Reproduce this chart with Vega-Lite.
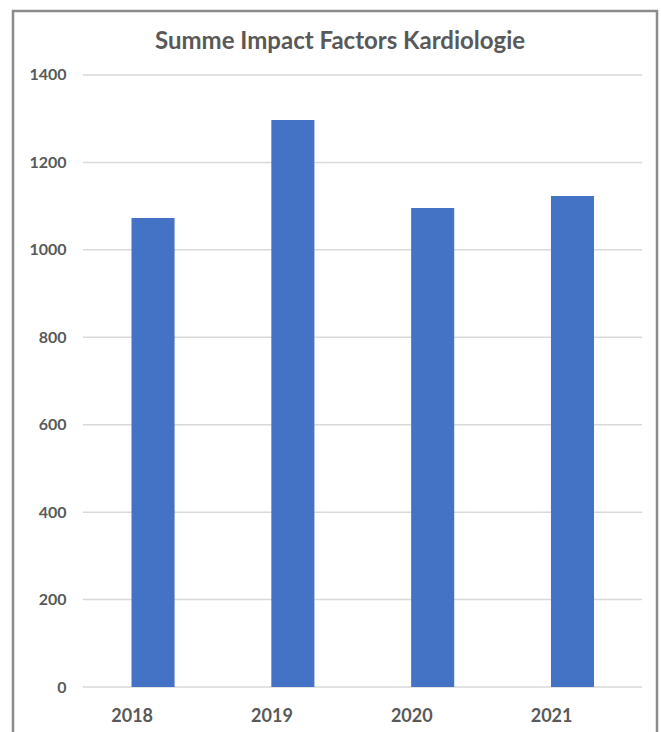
{
  "$schema": "https://vega.github.io/schema/vega-lite/v6.json",
  "autosize": {"type": "none"},
  "width": 644,
  "height": 740,
  "padding": {"left": 13, "top": 11, "right": 4, "bottom": 0},
  "background": "white",
  "title": {
    "text": "Summe Impact Factors Kardiologie",
    "font": "Lato",
    "fontSize": 24,
    "fontWeight": "bold",
    "color": "#595959",
    "anchor": "middle",
    "dx": 5,
    "offset": -43
  },
  "datasets": {
    "ifsum": [
      {"jahr": "2018", "summe": 1073},
      {"jahr": "2019", "summe": 1297},
      {"jahr": "2020", "summe": 1096},
      {"jahr": "2021", "summe": 1123}
    ],
    "raster": [
      {"wert": 0}, {"wert": 200}, {"wert": 400}, {"wert": 600},
      {"wert": 800}, {"wert": 1000}, {"wert": 1200}, {"wert": 1400}
    ]
  },
  "layer": [
    {
      "data": {"name": "raster"},
      "mark": {"type": "rule", "color": "#d9d9d9", "strokeWidth": 1.5},
      "encoding": {
        "y": {"field": "wert", "type": "quantitative"},
        "x": {"datum": "2018", "type": "ordinal", "bandPosition": -1.128},
        "x2": {"datum": "2021", "bandPosition": 2.116}
      }
    },
    {
      "data": {"name": "ifsum"},
      "mark": {"type": "bar", "color": "#4472C4"},
      "encoding": {
        "x": {
          "field": "jahr",
          "type": "ordinal",
          "sort": null,
          "title": null,
          "scale": {
            "domain": ["2018", "2019", "2020", "2021"],
            "paddingInner": 0.692,
            "paddingOuter": 0.649,
            "align": 0.653
          },
          "axis": {
            "orient": "bottom",
            "offset": -35,
            "labelPadding": 0,
            "ticks": false,
            "domain": false,
            "labelAngle": 0,
            "labelFont": "Lato",
            "labelFontSize": 18,
            "labelFontWeight": "bold",
            "labelColor": "#595959"
          }
        },
        "y": {
          "field": "summe",
          "type": "quantitative",
          "title": null,
          "scale": {"domain": [-146.4, 1546.4], "nice": false, "zero": false},
          "axis": {
            "orient": "left",
            "values": [0, 200, 400, 600, 800, 1000, 1200, 1400],
            "format": "d",
            "offset": -53,
            "labelPadding": 0,
            "ticks": false,
            "domain": false,
            "grid": false,
            "labelFont": "Lato",
            "labelFontSize": 16,
            "labelFontWeight": "bold",
            "labelColor": "#595959"
          }
        },
        "y2": {"datum": 0}
      }
    }
  ],
  "config": {
    "view": {"stroke": "#8c8c8c", "strokeWidth": 2.5}
  }
}
